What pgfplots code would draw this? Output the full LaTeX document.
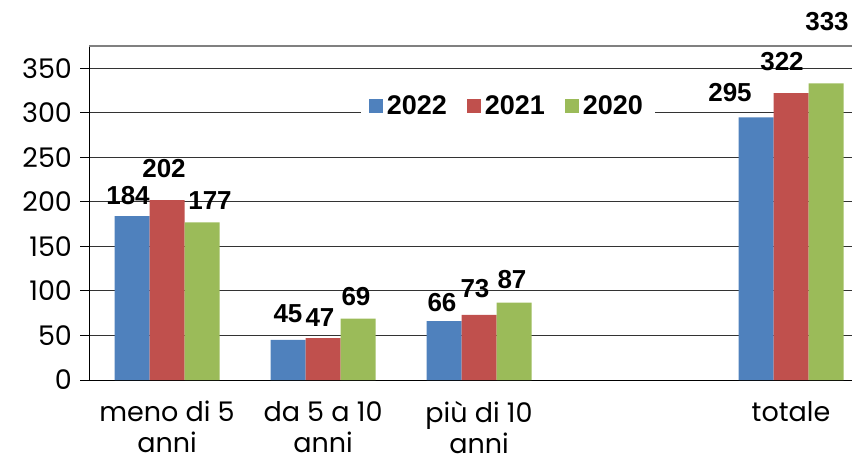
\documentclass[border=0pt]{standalone}
\usepackage{fontspec}
\setmainfont{Liberation Sans}
\newfontfamily\ticfont{Poppins}
\usepackage{pgfplots}
\pgfplotsset{compat=1.18}
\usepackage{pgfplotstable}
\definecolor{c22}{HTML}{4F81BD}
\definecolor{c21}{HTML}{C0504D}
\definecolor{c20}{HTML}{9BBB59}

% x = category, y = value, dx/dy = label offset (pt)
\pgfplotstableread{
x y dx dy
0 184 -2 5.5
1 45 0 8.5
2 66 -1 4.5
4 295 -13 7.5
}\dataA
\pgfplotstableread{
x y dx dy
0 202 -1.5 11
1 47 -1.5 5.5
2 73 -2 8.5
4 322 -4.5 11
}\dataB
\pgfplotstableread{
x y dx dy
0 177 4 6
1 69 -1 6
2 87 -1 6.5
4 333 0.5 26
}\dataC

\begin{document}
\begin{tikzpicture}
\useasboundingbox (0,0) rectangle (426pt,234pt);
\begin{axis}[
  at={(44.5pt,44pt)}, anchor=south west,
  scale only axis, width=381.5pt, height=167pt,
  xmin=-0.5, xmax=4.391, ymin=0, ymax=375,
  axis x line*=bottom, axis y line*=left,
  axis line style={black, line width=0.5pt},
  ybar=0pt, bar width=17.5pt,
  ytick={0,50,...,350},
  ymajorgrids, major grid style={black!80, line width=0.5pt},
  tick align=outside, major tick length=4.5pt,
  tick style={black, line width=0.5pt},
  extra y ticks={375}, extra y tick labels={},
  extra y tick style={major grid style={black!50, line width=1pt}, major tick length=0pt},
  xtick={0,1,2,4},
  xticklabels={meno di 5\\anni, da 5 a 10\\anni, più di 10\\anni, totale},
  x tick style={draw=none},
  extra x ticks={-0.5,0.5,1.5,2.5,3.5}, extra x tick labels={},
  extra x tick style={tick style={draw=black, line width=0.5pt}, major tick length=4.5pt},
  ticklabel style={font=\ticfont\fontsize{13.5}{15.5}\selectfont},
  /pgf/number format/assume math mode=true,
  xticklabel style={align=center, anchor=north, yshift=-5pt, inner sep=1pt},
  yticklabel style={anchor=east, xshift=-0.5pt},
  nodes near coords,
  nodes near coords style={font=\bfseries\fontsize{13}{15}\selectfont, anchor=south, inner sep=0pt, xshift=\dx*1pt, yshift=\dy*1pt},
  visualization depends on={\thisrow{dx}\as\dx},
  visualization depends on={\thisrow{dy}\as\dy},
  legend style={at={(0.549,0.82)}, anchor=center, draw=none, fill=white,
    font=\bfseries\fontsize{13.5}{16}\selectfont, legend columns=3,
    /tikz/every even column/.append style={column sep=8pt},
    inner xsep=4pt, inner ysep=2pt},
  legend image code/.code={\fill[#1] (0pt,-3.5pt) rectangle (7pt,3.5pt);},
  clip=false
]
\addplot[fill=c22, draw=none] table[x=x, y=y] {\dataA};
\addlegendentry{2022}
\addplot[fill=c21, draw=none] table[x=x, y=y] {\dataB};
\addlegendentry{2021}
\addplot[fill=c20, draw=none] table[x=x, y=y] {\dataC};
\addlegendentry{2020}
\end{axis}
\end{tikzpicture}
\end{document}
